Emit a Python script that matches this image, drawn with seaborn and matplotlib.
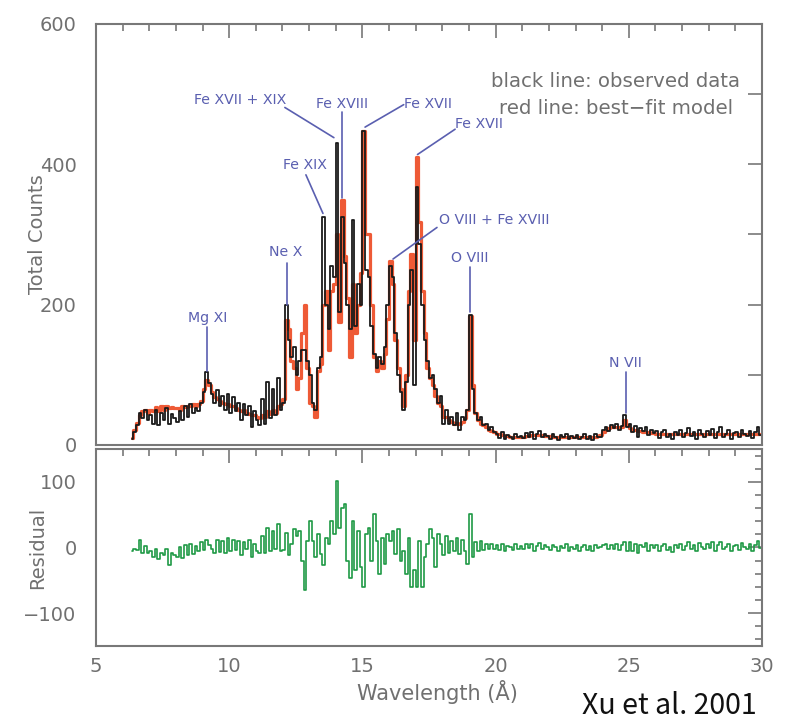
import numpy as np
import matplotlib
matplotlib.use("Agg")
import matplotlib.pyplot as plt
from matplotlib.ticker import MultipleLocator, FuncFormatter
import seaborn as sns

# ---------------- data (0.1 Å bins, 6.3 – 30.0 Å) ----------------
bin_start = 6.3
bin_width = 0.1

observed = [
    8, 18, 28, 45, 38, 50, 35,                        # 6.3-6.9
    42, 30, 50, 28, 45, 35, 52, 30, 44, 38,           # 7
    33, 48, 36, 55, 40, 58, 45, 52, 48, 60,           # 8
    75, 104, 88, 72, 60, 78, 55, 70, 50, 72,          # 9
    45, 68, 48, 60, 35, 58, 42, 55, 25, 48,           # 10
    35, 28, 65, 30, 90, 38, 80, 42, 95, 50,           # 11
    60, 200, 150, 125, 140, 100, 120, 135, 135, 120,  # 12
    100, 60, 50, 110, 125, 325, 200, 165, 255, 240,   # 13
    430, 190, 325, 260, 200, 165, 320, 170, 230, 200, # 14
    448, 250, 240, 170, 130, 110, 125, 115, 140, 200, # 15
    255, 240, 160, 100, 75, 50, 90, 200, 250, 85,     # 16
    367, 287, 200, 150, 120, 95, 100, 80, 60, 70,     # 17
    30, 50, 30, 40, 28, 45, 22, 40, 35, 50,           # 18
    185, 80, 45, 35, 40, 28, 30, 22, 25, 18,          # 19
    15, 10, 18, 8, 14, 12, 9, 16, 11, 13,             # 20
    10, 17, 12, 19, 9, 15, 20, 11, 16, 13,            # 21
    9, 15, 12, 7, 14, 11, 16, 8, 13, 10,              # 22
    14, 8, 12, 16, 9, 13, 7, 15, 11, 12,              # 23
    22, 26, 20, 28, 24, 30, 22, 27, 42, 25,           # 24
    30, 18, 27, 12, 24, 20, 26, 14, 22, 17,           # 25
    20, 10, 18, 22, 12, 16, 8, 19, 14, 21,            # 26
    11, 17, 24, 13, 18, 9, 22, 15, 12, 20,            # 27
    14, 23, 10, 18, 25, 12, 16, 21, 9, 17,            # 28
    19, 11, 22, 15, 13, 20, 10, 18, 26, 14,           # 29
]

model = [
    10, 22, 32, 42, 48, 50, 46,
    50, 48, 54, 48, 55, 50, 56, 52, 54, 52,
    52, 50, 55, 54, 56, 55, 58, 56, 58, 62,
    80, 92, 85, 75, 68, 66, 62, 60, 58, 58,
    56, 55, 52, 50, 48, 50, 45, 44, 42, 42,
    40, 38, 42, 40, 48, 44, 50, 46, 55, 58,
    65, 178, 165, 120, 110, 80, 95, 160, 200, 110,
    60, 55, 40, 105, 115, 200, 220, 135, 220, 230,
    300, 175, 349, 270, 210, 125, 230, 160, 200, 245,
    448, 300, 300, 200, 125, 105, 120, 110, 130, 180,
    262, 230, 150, 110, 80, 55, 100, 220, 272, 150,
    410, 318, 220, 160, 110, 95, 85, 70, 60, 55,
    40, 40, 35, 33, 30, 32, 30, 33, 38, 50,
    184, 85, 45, 35, 30, 28, 25, 22, 20, 18,
    16, 15, 14, 13, 13, 12, 12, 12, 12, 12,
    12, 13, 13, 14, 14, 14, 14, 14, 13, 13,
    13, 12, 12, 12, 12, 12, 12, 12, 12, 12,
    12, 12, 12, 12, 12, 12, 12, 12, 13, 14,
    18, 22, 24, 25, 26, 26, 25, 26, 35, 28,
    24, 22, 22, 20, 20, 19, 18, 18, 17, 17,
    16, 16, 16, 16, 15, 15, 15, 15, 15, 15,
    15, 15, 15, 15, 15, 15, 15, 15, 15, 15,
    15, 15, 15, 15, 15, 15, 15, 15, 15, 15,
    15, 15, 15, 15, 15, 16, 16, 16, 16, 15,
]

residual = [
    -5, -3, -4, 12, -8, 2, -9,
    -6, -15, -3, -18, -8, -12, -2, -26, -8, -12,
    -15, 0, -16, 3, -12, 6, -10, 2, -6, 8,
    -4, 12, 4, -3, -8, 12, -7, 10, -8, 14,
    -6, 12, -4, 10, -12, 8, -3, 11, -15, 6,
    -5, -8, 18, -8, 30, -5, 25, -3, 35, -6,
    -4, 22, -12, 5, 28, 18, 25, -20, -65, 10,
    40, 10, -15, 20, -10, -27, 15, 5, 40, 20,
    101, 30, 60, 66, -20, -47, 40, -35, 25, -30,
    -60, 20, 30, -20, 51, 10, -40, 15, -25, 20,
    10, 25, -10, 28, -20, -5, -40, 15, -60, -35,
    -60, 10, -60, -15, 5, 28, 15, -30, 20, 5,
    -12, 18, -8, 10, -5, 15, -10, 12, -6, -25,
    51, -15, 8, -5, 10, -4, 6, -3, 5, -2,
    3, -4, 5, -6, 2, 0, -4, 5, -2, 2,
    -3, 5, -1, 6, -5, 2, 7, -3, 4, 0,
    -4, 3, 0, -6, 2, -1, 5, -5, 1, -2,
    3, -5, 0, 4, -4, 2, -6, 4, -1, 0,
    4, 5, -3, 4, -2, 6, -4, 3, 9, -5,
    8, -6, 5, -9, 4, 1, 7, -5, 4, -1,
    4, -6, 2, 6, -4, 1, -7, 4, -1, 6,
    -4, 2, 9, -2, 3, -6, 7, 0, -3, 5,
    -1, 8, -5, 3, 9, -3, 1, 6, -6, 2,
    4, -4, 7, 0, -2, 5, -5, 3, 10, -1,
]

# line identifications: (label, text centre x, text centre y, leader start, leader end)
line_ids = [
    ("Mg XI",              9.20, 181, (9.17, 168), (9.17, 106)),
    ("Ne X",              12.13, 275, (12.16, 260), (12.16, 200)),
    ("Fe XIX",            12.86, 399, (12.88, 385), (13.52, 330)),
    ("Fe XVII + XIX",     10.41, 491, (12.09, 481), (13.93, 438)),
    ("Fe XVIII",          14.23, 486, (14.22, 474), (14.22, 352)),
    ("Fe XVII",           17.46, 486, (16.55, 485), (15.10, 453)),
    ("Fe XVII",           19.38, 458, (18.48, 450), (17.07, 414)),
    ("O VIII + Fe XVIII", 19.94, 320, (17.80, 310), (16.15, 265)),
    ("O VIII",            19.04, 266, (19.04, 253), (19.04, 190)),
    ("N VII",             24.88, 117, (24.88, 104), (24.88, 45)),
]

n = len(observed)
assert n == len(model) == len(residual) == 237
wavelength = bin_start + bin_width * (np.arange(n) + 0.5)

# ---------------- style ----------------
sns.set_theme(style="white")
plt.rcParams["font.family"] = ["DejaVu Sans"]
gray = "#707070"
frame = "#787878"
blue = "#5a5fb0"
red = "#ee5a36"
green = "#1f9a45"

fig = plt.figure(figsize=(7.92, 7.22), dpi=100)
ax1 = fig.add_axes([0.1212, 0.3837, 0.8409, 0.5831])
ax2 = fig.add_axes([0.1212, 0.1053, 0.8409, 0.2729])

sns.lineplot(x=wavelength, y=model, ax=ax1, color=red, lw=2.3,
             drawstyle="steps-mid", estimator=None, sort=False)
sns.lineplot(x=wavelength, y=observed, ax=ax1, color="#1a1a1a", lw=1.3,
             drawstyle="steps-mid", estimator=None, sort=False)
sns.lineplot(x=wavelength, y=residual, ax=ax2, color=green, lw=1.2,
             drawstyle="steps-mid", estimator=None, sort=False)

ax1.set_xlim(5, 30)
ax1.set_ylim(0, 600)
ax2.set_xlim(5, 30)
ax2.set_ylim(-150, 150)

for ax in (ax1, ax2):
    for s in ax.spines.values():
        s.set_color(frame)
        s.set_linewidth(1.5)
    ax.xaxis.set_major_locator(MultipleLocator(5))
    ax.xaxis.set_minor_locator(MultipleLocator(1))
    ax.tick_params(which="both", direction="in", top=True, right=True,
                   color=frame, width=1.2, labelcolor=gray, labelsize=14)
    ax.tick_params(which="major", length=10)
    ax.tick_params(which="minor", length=5)

ax1.yaxis.set_major_locator(MultipleLocator(100))
ax1.yaxis.set_major_formatter(FuncFormatter(lambda v, p: f"{int(v)}" if int(v) % 200 == 0 else ""))
ax1.tick_params(axis="x", labelbottom=False)
ax1.tick_params(axis="y", pad=14)
ax2.yaxis.set_major_locator(MultipleLocator(100))
ax2.yaxis.set_minor_locator(MultipleLocator(20))
ax2.tick_params(axis="y", pad=14)
ax2.tick_params(axis="x", pad=8)

ax1.set_ylabel("Total Counts", color=gray, fontsize=14)
ax2.set_ylabel("Residual", color=gray, fontsize=14)
ax2.set_xlabel("Wavelength (Å)", color=gray, fontsize=15)
ax1.yaxis.set_label_coords(-0.074, 0.5)
ax2.yaxis.set_label_coords(-0.074, 0.5)
ax2.xaxis.set_label_coords(0.512, -0.172)

for label, tx, ty, (x0, y0), (x1, y1) in line_ids:
    ax1.plot([x0, x1], [y0, y1], color=blue, lw=1.2)
    ax1.text(tx, ty, label, color=blue, fontsize=10.2, ha="center", va="center")

ax1.text(24.52, 518, "black line: observed data", color=gray, fontsize=14.2,
         ha="center", va="center")
ax1.text(24.52, 480, "red line: best\u2212fit model", color=gray, fontsize=14.2,
         ha="center", va="center")

fig.text(0.845, 0.022, "Xu et al. 2001", color="#111111", fontsize=20.5,
         ha="center", va="center", family=["Noto Sans CJK SC", "DejaVu Sans"])

fig.savefig("out.png", dpi=100, facecolor="white")
